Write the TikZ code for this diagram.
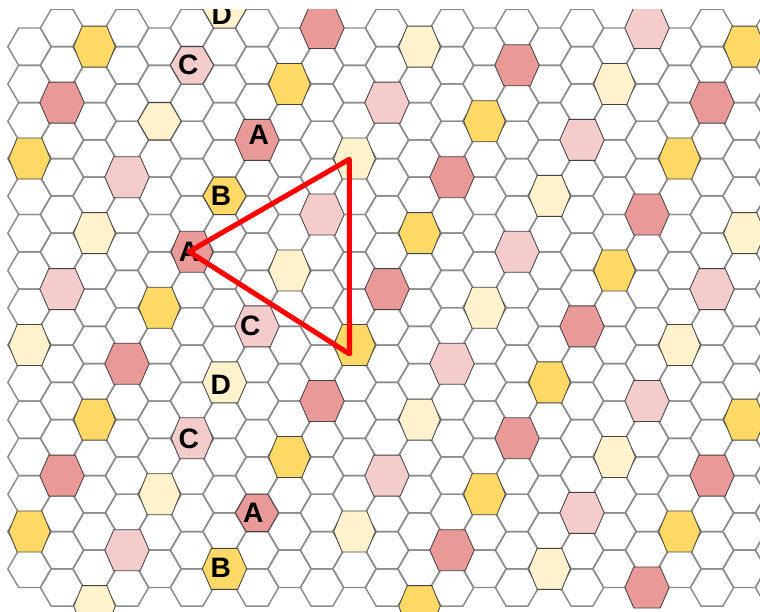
\documentclass[tikz,border=0pt]{standalone}
\usepackage{fontspec}
\usepackage{tikz}
\usetikzlibrary{calc}
\newfontfamily\lblfont{Liberation Sans}
\definecolor{gridgray}{HTML}{8C8C8C}
\definecolor{cellline}{HTML}{434343}
\definecolor{yel}{HTML}{FFD966}
\definecolor{ltyel}{HTML}{FFF2CC}
\definecolor{ltpink}{HTML}{F4CCCC}
\definecolor{dkpink}{HTML}{EA9999}

\begin{document}
\begin{tikzpicture}[x=0.025cm,y=-0.025cm,
  gridline/.style={draw=gridgray,line width=1.05pt},
  cell/.style={draw=cellline,line width=0.6pt},
  lbl/.style={font=\lblfont\bfseries\fontsize{20}{24}\selectfont,inner sep=0pt},
  tri/.style={draw=red,line width=3.6pt,line join=round}]
  \useasboundingbox (0,0) rectangle (760,611);
  \fill[white] (0,0) rectangle (760,611);
  \begin{scope}
  \clip (0,9.3) rectangle (760,611);
  % grid
  \foreach \i in {0,...,23} {
    \pgfmathtruncatemacro\rows{mod(\i,2)==0 ? 14 : 15}
    \foreach \j in {0,...,\rows}
      \draw[gridline,shift={({29.5+32.5*\i},{28+37.3*\j+18.65*(1-mod(\i,2))})}]
        (-21.67,0) -- (-10.83,-18.65) -- (10.83,-18.65) -- (21.67,0) -- (10.83,18.65) -- (-10.83,18.65) -- cycle;
  }
  % coloured cells, wide
  \foreach \i/\j/\c in {9/0/dkpink,1/2/dkpink,11/2/ltpink,3/4/ltpink,9/5/ltpink,1/7/ltpink,11/7/dkpink,
      19/0/ltpink,15/1/dkpink,21/2/dkpink,17/3/ltpink,13/4/dkpink,19/5/dkpink,15/6/ltpink,21/7/ltpink,
      17/8/dkpink,3/9/dkpink,9/10/dkpink,1/12/dkpink,11/12/ltpink,3/14/ltpink,13/9/ltpink,19/10/ltpink,
      15/11/dkpink,21/12/dkpink,17/13/ltpink,13/14/dkpink,19/15/dkpink,
      7/3/dkpink,7/8/ltpink,6/9/ltyel,6/14/yel}
    \draw[cell,fill=\c,shift={({29.5+32.5*\i},{28+37.3*\j+18.65*(1-mod(\i,2))})}]
      (-22.2,0) -- (-13.2,-20.5) -- (13.2,-20.5) -- (22.2,0) -- (13.2,20.5) -- (-13.2,20.5) -- cycle;
  % coloured cells, narrow
  \foreach \i/\j/\c in {2/0/yel,8/1/yel,0/3/yel,10/3/ltyel,2/5/ltyel,8/6/ltyel,4/7/yel,12/0/ltyel,
      22/0/yel,18/1/ltyel,14/2/yel,20/3/yel,16/4/ltyel,12/5/yel,22/5/ltyel,18/6/yel,14/7/ltyel,
      0/8/ltyel,10/8/yel,2/10/yel,8/11/yel,4/12/ltyel,0/13/yel,10/13/ltyel,2/15/ltyel,20/8/ltyel,
      16/9/yel,12/10/ltyel,22/10/yel,18/11/ltyel,14/12/yel,20/13/yel,16/14/ltyel,12/15/yel,
      5/6/dkpink,5/11/ltpink}
    \draw[cell,fill=\c,shift={({29.5+32.5*\i},{28+37.3*\j+18.65*(1-mod(\i,2))})}]
      (-20.8,0) -- (-12.3,-20.5) -- (12.3,-20.5) -- (20.8,0) -- (12.3,20.5) -- (-12.3,20.5) -- cycle;
  % coloured cells, grid size
  \foreach \i/\j/\c in {4/2/ltyel,5/1/ltpink,6/4/yel,7/13/dkpink,6/-1/ltyel}
    \draw[cell,fill=\c,shift={({29.5+32.5*\i},{28+37.3*\j+18.65*(1-mod(\i,2))})}]
      (-21.67,0) -- (-10.83,-18.65) -- (10.83,-18.65) -- (21.67,0) -- (10.83,18.65) -- (-10.83,18.65) -- cycle;
  % letters
  \node[lbl] (dTop) at (221.7,15) {D};
  \node[lbl] (cUp) at (188.3,65) {C};
  \node[lbl] (aUp) at (258.8,134.5) {A};
  \node[lbl] (bUp) at (221,196.3) {B};
  \node[lbl] (aMid) at (189,251.7) {A};
  \node[lbl] (cMid) at (250.3,325.5) {C};
  \node[lbl] (dMid) at (220.8,385) {D};
  \node[lbl] (cLow) at (188.7,439) {C};
  \node[lbl] (aLow) at (253.3,513) {A};
  \node[lbl] (bLow) at (220.8,568.3) {B};
  % triangle
  \coordinate (apexT) at (349.3,159.3);
  \coordinate (apexB) at (349.5,354);
  \draw[tri] (aMid.center) -- (apexT) -- (apexB) -- cycle;
  \end{scope}
\end{tikzpicture}
\end{document}
